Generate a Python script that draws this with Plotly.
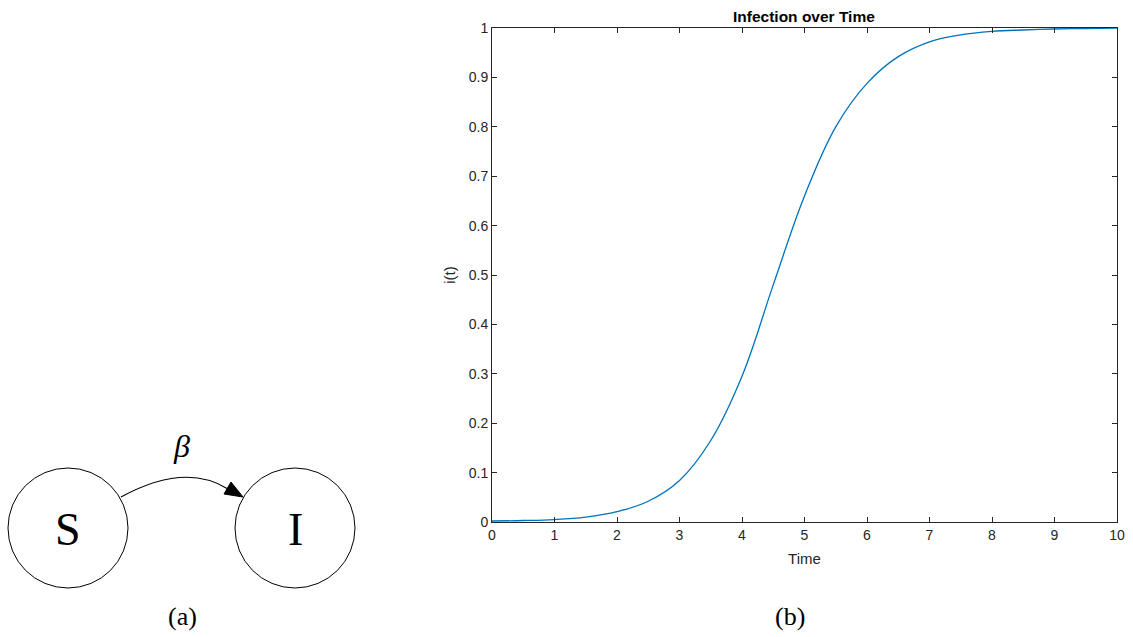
import plotly.graph_objects as go

# ---- data ----
time = [0, 0.5, 1, 1.5, 2, 2.5, 3, 3.5, 4, 4.5, 5, 5.5, 6, 6.5, 7, 7.5, 8, 8.5, 9, 9.5, 10]
infected = [0.002, 0.003, 0.005, 0.010, 0.021, 0.042, 0.084, 0.165, 0.295, 0.48, 0.66,
            0.80, 0.888, 0.942, 0.972, 0.986, 0.993, 0.996, 0.998, 0.999, 1.0]
x_ticks = [0, 1, 2, 3, 4, 5, 6, 7, 8, 9, 10]
y_ticks = [0, 0.1, 0.2, 0.3, 0.4, 0.5, 0.6, 0.7, 0.8, 0.9, 1]
y_tick_labels = ["0", "0.1", "0.2", "0.3", "0.4", "0.5", "0.6", "0.7", "0.8", "0.9", "1"]
title_text = "Infection over Time"
x_label = "Time"
y_label = "i(t)"
nodes = ["S", "I"]
rate_label = "β"
captions = ["(a)", "(b)"]

W, H = 1133, 637


def px(x):
    return x / W


def py(y):
    return 1 - y / H


AX = "#262626"
fig = go.Figure()
fig.add_trace(go.Scatter(x=time, y=infected, mode="lines",
                         line=dict(color="#0072BD", width=1.3, shape="spline", smoothing=1.1),
                         showlegend=False, hoverinfo="x+y"))

axis_common = dict(showline=True, linecolor=AX, linewidth=1, mirror="ticks",
                   ticks="inside", ticklen=5, tickcolor=AX, tickwidth=1,
                   showgrid=False, zeroline=False, automargin=False,
                   tickfont=dict(family="Liberation Sans", size=14, color=AX))

fig.update_layout(
    width=W, height=H, autosize=False,
    margin=dict(l=0, r=0, t=0, b=0, pad=0),
    plot_bgcolor="white", paper_bgcolor="white",
    xaxis=dict(domain=[px(492), px(1117)], range=[0, 10], tickvals=x_ticks,
               title=dict(text=x_label, standoff=11,
                          font=dict(family="Liberation Sans", size=15, color=AX)),
               **axis_common),
    yaxis=dict(domain=[py(522), py(28)], range=[0, 1], tickvals=y_ticks, ticktext=y_tick_labels,
               title=dict(text=y_label, standoff=9,
                          font=dict(family="Liberation Sans", size=15, color=AX)),
               **axis_common),
)


def label(x, y, text, family, size, color="black"):
    fig.add_annotation(x=px(x), y=py(y), xref="paper", yref="paper", text=text,
                       xanchor="center", yanchor="middle", showarrow=False,
                       font=dict(family=family, size=size, color=color))


label(804.5, 16, "<b>" + title_text + "</b>", "Liberation Sans", 15.5)

# ---- diagram (a) ----
circles = [(68, 528, 60), (295, 528, 60)]
for (cx, cy, r), lab in zip(circles, nodes):
    fig.add_shape(type="circle", xref="paper", yref="paper",
                  x0=px(cx - r), x1=px(cx + r), y0=py(cy + r), y1=py(cy - r),
                  line=dict(color="black", width=1))
    label(cx, cy + 1, lab, "Liberation Serif", 46)

p0 = (121, 497)
c = (185, 462)
p2 = (228, 489)
fig.add_shape(type="path", xref="paper", yref="paper",
              path=f"M {px(p0[0])},{py(p0[1])} Q {px(c[0])},{py(c[1])} {px(p2[0])},{py(p2[1])}",
              line=dict(color="black", width=1.2))
fig.add_shape(type="path", xref="paper", yref="paper",
              path=f"M {px(243)},{py(497)} L {px(224)},{py(494)} L {px(231)},{py(482)} Z",
              fillcolor="black", line=dict(color="black", width=1))

label(181, 446, "<i>" + rate_label + "</i>", "Liberation Serif", 32)

for cxp, lab in zip([182, 790], captions):
    label(cxp, 616, lab, "Liberation Serif", 26)

fig.write_html("out.html",
               config={"displayModeBar": False},
               post_script="document.documentElement.style.margin='0';"
                           "document.body.style.margin='0';"
                           "document.body.style.overflow='hidden';")
